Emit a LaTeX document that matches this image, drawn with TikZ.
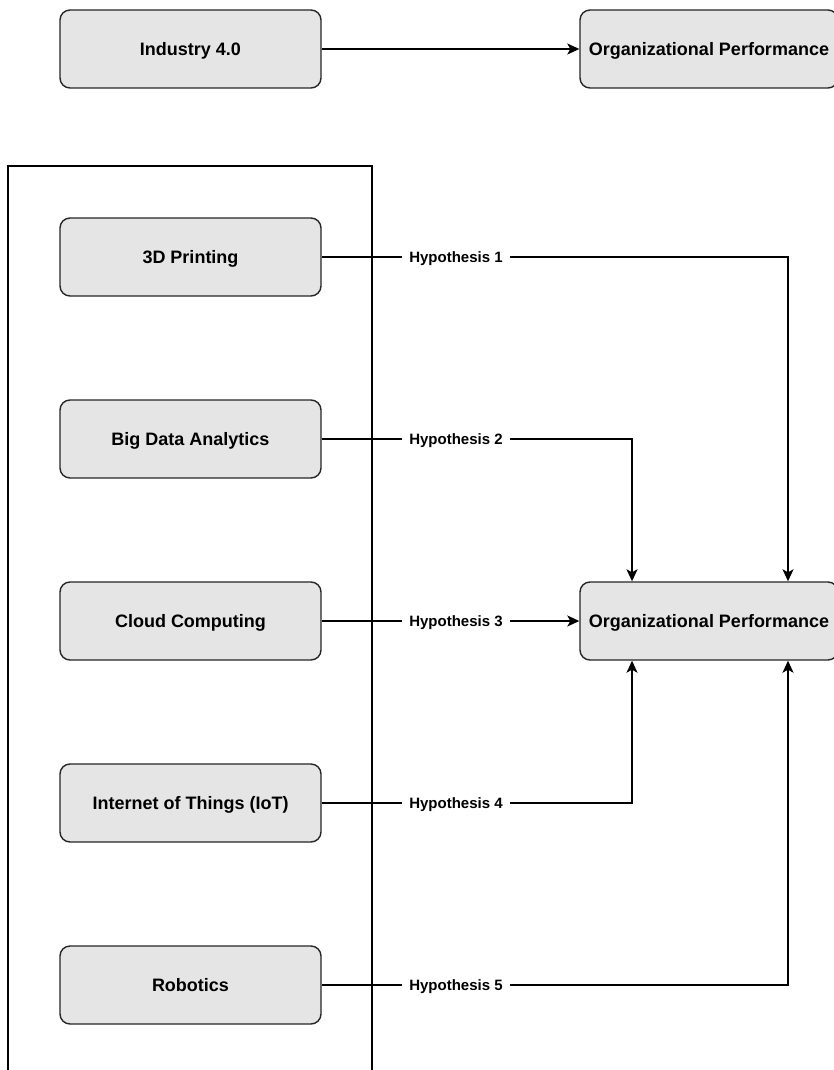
\documentclass[tikz,border=0pt]{standalone}
\usepackage{fontspec}
\setmainfont{Liberation Sans}
\usetikzlibrary{arrows.meta}
\tikzset{
  box/.style={draw=black!85, line width=1.4pt, fill=black!10, rounded corners=10pt,
    minimum width=261pt, minimum height=78pt, inner sep=0pt,
    text height=13pt, text depth=0pt,
    font=\fontsize{18}{22}\selectfont\bfseries},
  opbox/.style={box, minimum width=258pt},
  hyp/.style={inner xsep=7pt, inner ysep=0pt, text height=10.8pt, text depth=0pt,
    font=\fontsize{15}{18}\selectfont\bfseries},
  conn/.style={line width=1.5pt, black},
  arr/.style={conn, -{Stealth[length=12pt,width=11pt,inset=3pt]}},
  frame/.style={draw=black, line width=1.5pt}
}
\begin{document}
\begin{tikzpicture}[x=1pt,y=-1pt]
\fill[white] (0,0) rectangle (833,1070);
\useasboundingbox (0,0) rectangle (833,1070);
% outer frame
\draw[frame] (8,1085) -- (8,166) -- (372,166) -- (372,1085);
% top row
\node[box] (ind) at (190.5,49) {Industry 4.0};
\node[opbox] (optop) at (709,49) {Organizational Performance};
\draw[arr] (ind.east) -- (optop.west);
% left boxes
\node[box] (p3d) at (190.5,257) {3D Printing};
\node[box] (bda) at (190.5,439) {Big Data Analytics};
\node[box] (cc) at (190.5,621) {Cloud Computing};
\node[box] (iot) at (190.5,803) {Internet of Things (IoT)};
\node[box] (rob) at (190.5,985) {Robotics};
% right box
\node[opbox] (op) at (709,621) {Organizational Performance};
\coordinate (cl) at (632,0);
\coordinate (cr) at (788,0);
% hypothesis labels
\node[hyp] (h1) at (456,257) {Hypothesis 1};
\node[hyp] (h2) at (456,439) {Hypothesis 2};
\node[hyp] (h3) at (456,621) {Hypothesis 3};
\node[hyp] (h4) at (456,803) {Hypothesis 4};
\node[hyp] (h5) at (456,985) {Hypothesis 5};
% connectors
\draw[conn] (p3d.east) -- (h1.west);
\draw[conn] (bda.east) -- (h2.west);
\draw[conn] (cc.east) -- (h3.west);
\draw[conn] (iot.east) -- (h4.west);
\draw[conn] (rob.east) -- (h5.west);
\draw[arr] (h1.east) -| (op.north -| cr);
\draw[arr] (h2.east) -| (op.north -| cl);
\draw[arr] (h3.east) -- (op.west);
\draw[arr] (h4.east) -| (op.south -| cl);
\draw[arr] (h5.east) -| (op.south -| cr);
\end{tikzpicture}
\end{document}
